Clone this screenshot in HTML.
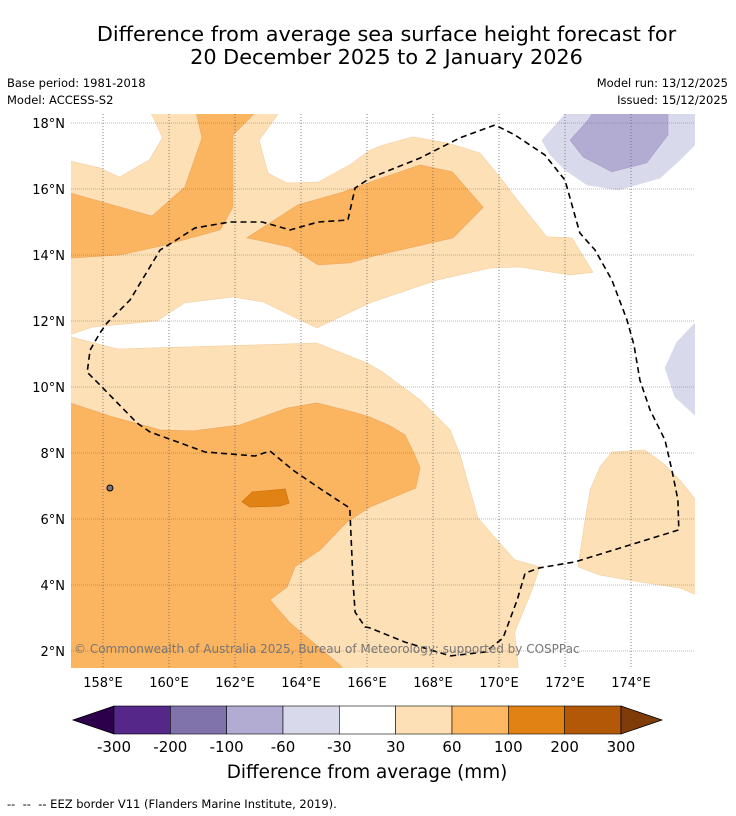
<!DOCTYPE html>
<html><head><meta charset="utf-8">
<style>
body{margin:0;background:#fff;font-family:"DejaVu Sans","Liberation Sans",sans-serif;}
#wrap{position:relative;width:736px;height:816px;overflow:hidden;}
.t{position:absolute;white-space:nowrap;color:#000;}
</style></head>
<body>
<div id="wrap">
<div class="t" style="left:0;width:773px;text-align:center;top:23px;font-size:20.8px;line-height:23px;">Difference from average sea surface height forecast for<br>20 December 2025 to 2 January 2026</div>
<div class="t" style="left:7px;top:76px;font-size:11.5px;">Base period: 1981-2018</div>
<div class="t" style="left:7px;top:93px;font-size:11.5px;">Model: ACCESS-S2</div>
<div class="t" style="right:8px;top:76px;font-size:11.5px;">Model run: 13/12/2025</div>
<div class="t" style="right:8px;top:93px;font-size:11.5px;">Issued: 15/12/2025</div>
<div class="t" style="left:7px;top:797px;font-size:11.5px;">--&nbsp; --&nbsp; -- EEZ border V11 (Flanders Marine Institute, 2019).</div>
<svg id="map" width="736" height="816" style="position:absolute;left:0;top:0"></svg>
</div>
<script>
const lonTicks=[158,160,162,164,166,168,170,172,174];
const latTicks=[2,4,6,8,10,12,14,16,18];
const levelLabels=["-300","-200","-100","-60","-30","30","60","100","200","300"];
const levelColors=["#542788","#8073ac","#b2abd2","#d8daeb","#ffffff","#fee0b6","#fdb863","#e08214","#b35806"];
// contour regions (lon, lat)
const whiteBig=[[163.4,18.4],[162.73,17.48],[163,16.48],[163.58,16.18],[164.52,16.21],[165.48,16.73],[166.09,17.18],[166.48,17.33],[167.39,17.58],[168.45,17.39],[169.42,17.09],[170.03,16.36],[170.55,15.67],[171.45,14.55],[172.21,14.52],[172.85,13.48],[172.15,13.39],[170.64,13.64],[169.73,13.61],[168.12,13.24],[166.09,12.55],[164.48,11.79],[163.67,12.18],[162.85,12.58],[161.94,12.73],[160.48,12.55],[159.64,12],[157.7,11.82],[156.9,11.55],[158.45,11.15],[164.48,11.33],[166,10.73],[166.48,10.45],[167.61,9.61],[168.52,8.7],[168.82,7.94],[169.12,6.88],[169.36,6.03],[169.94,5.36],[170.48,4.76],[171.24,4.55],[171,3.85],[170.48,2.58],[170.6,1.3],[176.1,1.3],[176.1,18.4]];
const whiteTL=[[156.9,18.4],[159.4,18.4],[159.6,18],[159.8,17.55],[159.4,16.88],[158.5,16.36],[157.9,16.64],[156.9,16.87]];
const medLeftTop=[[156.9,15.91],[159.48,15.18],[160.48,16.06],[161,17.55],[160.8,18.4],[162.7,18.4],[161.94,17.64],[161.94,15.45],[161.55,14.76],[159.88,14.3],[158.52,14],[156.9,13.9]];
const medTopBlob=[[162.36,14.52],[163.91,15.52],[165.27,15.91],[166.09,16.21],[167.61,16.73],[168.58,16.52],[169.52,15.45],[168.61,14.52],[166.09,13.94],[165.48,13.76],[164.52,13.7],[163.67,14.24]];
const medBottom=[[156.9,9.55],[158.21,9.12],[159.73,8.7],[160.73,8.67],[162.15,8.85],[163.58,9.36],[164.48,9.52],[165.58,9.24],[166.09,9.09],[166.7,8.82],[167.15,8.55],[167.45,7.94],[167.61,7.55],[167.48,6.94],[166.09,6.36],[165.39,5.91],[164.58,5.06],[163.82,4.55],[163.58,3.94],[163.06,3.55],[163.67,2.85],[165.18,1.58],[165.4,1.3],[156.9,1.3]];
const darkBlob=[[162.21,6.52],[162.52,6.82],[163.52,6.91],[163.64,6.48],[163.36,6.39],[162.45,6.36]];
const lightPurpleTR=[[171.3,17.48],[171.85,18.09],[172.1,18.4],[176.1,18.4],[176.1,17.5],[175.48,16.88],[174.88,16.33],[173.61,15.97],[172.67,16.12],[172,16.58],[171.55,17.03]];
const purpleTR=[[172.15,17.48],[172.7,18.09],[172.9,18.4],[175.12,18.4],[175.12,17.64],[174.48,16.79],[173.42,16.52],[172.55,16.97]];
const lightPurpleR=[[176.1,12.1],[175.39,11.36],[175.03,10.58],[175.33,9.7],[176.1,9.0]];
const lightRight=[[172.39,4.55],[172.61,5.97],[172.76,6.88],[173.06,7.58],[173.42,8.03],[174.42,8.09],[175.03,7.64],[175.48,7.18],[176.1,6.4],[176.1,3.65],[175.48,3.91],[174.27,4.09],[173.06,4.3]];
const eez=[[168.52,1.85],[169.58,1.97],[170.12,2.39],[170.55,3.55],[170.79,4.36],[171.24,4.52],[172.3,4.7],[173.67,5.12],[175.45,5.67],[175.42,6.58],[175.24,7.48],[175.03,8.39],[174.58,9.3],[174.27,10.21],[174.09,11.27],[173.88,12.03],[173.42,13.24],[172.91,14.15],[172.45,14.67],[172,16.27],[171.39,17.03],[170.48,17.64],[169.88,17.94],[168.82,17.55],[167.61,16.94],[166.09,16.33],[165.64,16.03],[165.42,15.06],[164.52,15],[163.67,14.76],[162.82,15],[161.85,15],[160.79,14.82],[160.12,14.39],[159.73,14.15],[158.82,12.64],[158.12,11.94],[157.91,11.64],[157.61,11.12],[157.52,10.45],[157.91,10.06],[159.03,8.91],[159.42,8.64],[161.09,8.03],[162.61,7.91],[163.06,8.06],[163.76,7.48],[164.64,6.88],[165.48,6.33],[165.58,4.06],[165.64,3.18],[165.94,2.73],[166.09,2.7],[167.15,2.27],[168.52,1.85]];
const islands=[[158.21,6.94]];

const NS="http://www.w3.org/2000/svg";
const svg=document.getElementById('map');
const X0=71,X1=695,Y0=114,Y1=668;
const xs=lon=>70+(lon-157)*33;
const ys=lat=>123+(18-lat)*33;
function mk(tag,attrs,parent){const e=document.createElementNS(NS,tag);for(const k in attrs)e.setAttribute(k,attrs[k]);(parent||svg).appendChild(e);return e;}
const defs=mk('defs',{});
const cp=mk('clipPath',{id:'clip'},defs);
mk('rect',{x:X0,y:Y0,width:X1-X0,height:Y1-Y0},cp);
const g=mk('g',{'clip-path':'url(#clip)'});


const bg=mk('rect',{x:X0,y:Y0,width:X1-X0,height:Y1-Y0,fill:'#fee0b6'},g);


function poly(pts,fill,name,stroke){
  const p=mk('polygon',{points:pts.map(q=>xs(q[0]).toFixed(1)+','+ys(q[1]).toFixed(1)).join(' '),fill:fill,stroke:stroke||fill,'stroke-width':0.6},g);
  
  
  return p;
}
poly(whiteBig,'#ffffff','contour-neutral-region','#f3cfa0');
poly(whiteTL,'#ffffff','contour-neutral-northwest','#f3cfa0');
poly(medLeftTop,'#fbb460','contour-60-100-northwest','#eaa860');
poly(medTopBlob,'#fbb460','contour-60-100-north','#eaa860');
poly(medBottom,'#fbb460','contour-60-100-southwest','#eaa860');
poly(darkBlob,'#e08214','contour-100-200-blob','#c87010');
poly(lightPurpleTR,'#d8daeb','contour-neg30-60-northeast','#d8daeb');
poly(purpleTR,'#b2abd2','contour-neg60-100-northeast','#a8a0c8');
poly(lightPurpleR,'#d8daeb','contour-neg30-60-east','#d8daeb');
poly(lightRight,'#fee0b6','contour-30-60-southeast','#f0cfa0');
islands.forEach(q=>{const c=mk('circle',{cx:xs(q[0]),cy:ys(q[1]),r:3,fill:'#777',stroke:'#000','stroke-width':1},g);

});
// gridlines
lonTicks.forEach(l=>{const e=mk('line',{x1:xs(l),x2:xs(l),y1:Y0,y2:Y1,stroke:'#666','stroke-width':0.8,'stroke-dasharray':'1,2'},g);

});
latTicks.forEach(l=>{const e=mk('line',{x1:X0,x2:X1,y1:ys(l),y2:ys(l),stroke:'#777','stroke-width':0.6,'stroke-dasharray':'1,1'},g);

});
const ez=mk('polyline',{points:eez.map(q=>xs(q[0]).toFixed(1)+','+ys(q[1]).toFixed(1)).join(' '),fill:'none',stroke:'#000','stroke-width':1.6,'stroke-dasharray':'6,4'},g);


const cr=mk('text',{x:74,y:653,'font-size':12,fill:'#777','font-family':'DejaVu Sans, Liberation Sans, sans-serif'},g);
cr.textContent='© Commonwealth of Australia 2025, Bureau of Meteorology; supported by COSPPac';


// tick labels
lonTicks.forEach(l=>{const t=mk('text',{x:xs(l),y:687,'font-size':13,'text-anchor':'middle','font-family':'DejaVu Sans, sans-serif'});t.textContent=l+'°E';

});
latTicks.forEach(l=>{const t=mk('text',{x:65,y:ys(l)+5,'font-size':13,'text-anchor':'end','font-family':'DejaVu Sans, sans-serif'});t.textContent=l+'°N';

});
// colorbar
const cbL=114,cbW=56.33,cbT=706,cbH=28;
const lt=mk('polygon',{points:`73,${cbT+cbH/2} ${cbL},${cbT} ${cbL},${cbT+cbH}`,fill:'#2d004b',stroke:'#000','stroke-width':0.8});


levelColors.forEach((c,i)=>{const r=mk('rect',{x:cbL+i*cbW,y:cbT,width:cbW,height:cbH,fill:c,stroke:'#000','stroke-width':0.6});

});
const rEnd=cbL+levelColors.length*cbW;
const rt=mk('polygon',{points:`${rEnd},${cbT} ${rEnd+41},${cbT+cbH/2} ${rEnd},${cbT+cbH}`,fill:'#7f3b08',stroke:'#000','stroke-width':0.8});


levelLabels.forEach((s,i)=>{const t=mk('text',{x:cbL+i*cbW,y:752,'font-size':15,'text-anchor':'middle','font-family':'DejaVu Sans, sans-serif'});t.textContent=s;

});
const ct=mk('text',{x:367,y:778,'font-size':18.4,'text-anchor':'middle','font-family':'DejaVu Sans, sans-serif'});
ct.textContent='Difference from average (mm)';


</script>
</body></html>
